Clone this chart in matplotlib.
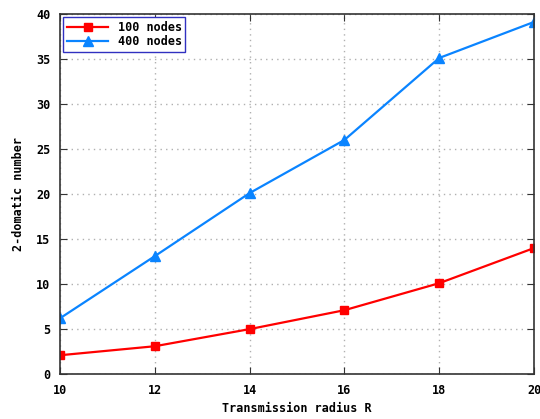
import matplotlib
matplotlib.use("Agg")
import matplotlib.pyplot as plt

#data
radius = [10, 12, 14, 16, 18, 20]
nodes_100 = [2.1, 3.1, 5.0, 7.1, 10.1, 14.0]
nodes_400 = [6.2, 13.1, 20.1, 26.0, 35.1, 39.1]

plt.rcParams['font.family'] = 'DejaVu Sans Mono'
plt.rcParams['font.weight'] = 'bold'
plt.rcParams['font.size'] = 8.5

fig = plt.figure(figsize=(5.4, 4.19), dpi=100)
ax = fig.add_axes([0.111, 0.107, 0.878, 0.860])

ax.plot(radius, nodes_100, color='#ff0000', marker='s', markersize=6, linewidth=1.6, label='100 nodes')
ax.plot(radius, nodes_400, color='#0a84ff', marker='^', markersize=7, linewidth=1.6, label='400 nodes')

ax.set_xlim(10, 20)
ax.set_ylim(0, 40)
ax.set_xticks(radius)
ax.set_yticks(range(0, 41, 5))
ax.grid(True, linestyle=(0, (1, 3)), color='#b0b0b0', linewidth=1)
ax.tick_params(direction='in', top=True, right=True, length=5, color='#333333', pad=7)
for s in ax.spines.values():
    s.set_color('#333333')
    s.set_linewidth(1.2)

ax.set_xlabel('Transmission radius R', fontweight='bold', labelpad=4)
ax.set_ylabel('2-domatic number', fontweight='bold', labelpad=8)

leg = ax.legend(loc='upper left', fancybox=False, framealpha=1, borderpad=0.3,
                handlelength=3.5, labelspacing=0.1, borderaxespad=0.3)
leg.get_frame().set_edgecolor('#3030c0')
leg.get_frame().set_linewidth(1)

fig.savefig('out.png', dpi=100)
